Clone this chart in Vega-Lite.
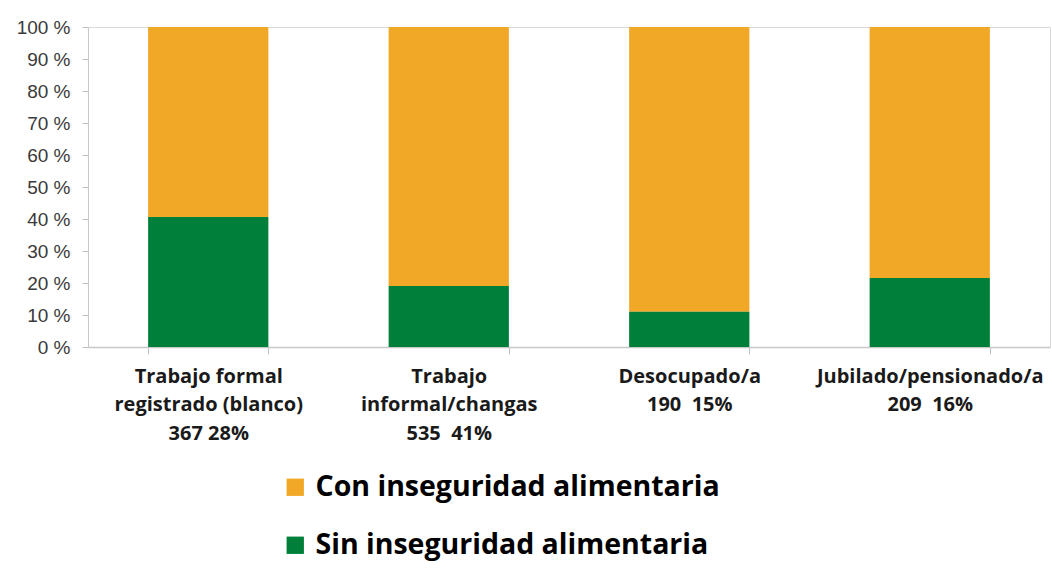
{
  "$schema": "https://vega.github.io/schema/vega-lite/v6.json",
  "autosize": {"type": "none"},
  "width": 962,
  "height": 320,
  "padding": {"left": 88, "top": 27, "right": 2, "bottom": 225},
  "background": "white",
  "config": {"view": {"stroke": "#d9d9d9", "strokeWidth": 1}},
  "data": {
    "values": [
      {"cat": "Trabajo formal|registrado (blanco)|367 28%", "serie": "Con inseguridad alimentaria", "pct": 59.4},
      {"cat": "Trabajo formal|registrado (blanco)|367 28%", "serie": "Sin inseguridad alimentaria", "pct": 40.6},
      {"cat": "Trabajo|informal/changas|535\u00a0 41%", "serie": "Con inseguridad alimentaria", "pct": 80.9},
      {"cat": "Trabajo|informal/changas|535\u00a0 41%", "serie": "Sin inseguridad alimentaria", "pct": 19.1},
      {"cat": "Desocupado/a|190\u00a0 15%", "serie": "Con inseguridad alimentaria", "pct": 89.0},
      {"cat": "Desocupado/a|190\u00a0 15%", "serie": "Sin inseguridad alimentaria", "pct": 11.0},
      {"cat": "Jubilado/pensionado/a|209\u00a0 16%", "serie": "Con inseguridad alimentaria", "pct": 78.4},
      {"cat": "Jubilado/pensionado/a|209\u00a0 16%", "serie": "Sin inseguridad alimentaria", "pct": 21.6}
    ]
  },
  "mark": {"type": "bar"},
  "encoding": {
    "x": {
      "field": "cat",
      "type": "nominal",
      "sort": null,
      "title": null,
      "scale": {"paddingInner": 0.5, "paddingOuter": 0.25},
      "axis": {
        "labelAngle": 0,
        "labelExpr": "split(datum.label, '|')",
        "labelFont": "Open Sans",
        "labelFontWeight": "bold",
        "labelFontSize": 20,
        "labelLineHeight": 28.5,
        "labelColor": "#1a1a1a",
        "labelPadding": 12,
        "labelLimit": 400,
        "tickBand": "extent",
        "tickSize": 7,
        "tickColor": "#bfbfbf",
        "domainColor": "#c8c8c8",
        "domainWidth": 1.5
      }
    },
    "y": {
      "field": "pct",
      "type": "quantitative",
      "stack": "zero",
      "title": null,
      "scale": {"domain": [0, 100], "nice": false},
      "axis": {
        "values": [0, 10, 20, 30, 40, 50, 60, 70, 80, 90, 100],
        "labelExpr": "datum.value + ' %'",
        "labelFont": "Liberation Sans",
        "labelFontSize": 19,
        "labelColor": "#3a3a3a",
        "labelPadding": 12,
        "tickSize": 6,
        "tickColor": "#bfbfbf",
        "domainColor": "#c8c8c8",
        "grid": false
      }
    },
    "color": {
      "field": "serie",
      "type": "nominal",
      "scale": {
        "domain": ["Con inseguridad alimentaria", "Sin inseguridad alimentaria"],
        "range": ["#F1A827", "#007F3A"]
      },
      "legend": {
        "title": null,
        "orient": "none",
        "legendX": 193,
        "legendY": 446,
        "direction": "vertical",
        "symbolType": "square",
        "symbolSize": 300,
        "symbolStrokeWidth": 0,
        "labelFont": "Open Sans",
        "labelFontWeight": "bold",
        "labelFontSize": 28.5,
        "labelColor": "#000000",
        "labelLimit": 600,
        "labelOffset": 6,
        "rowPadding": 29
      }
    },
    "order": {"field": "serie", "sort": "descending"}
  }
}
